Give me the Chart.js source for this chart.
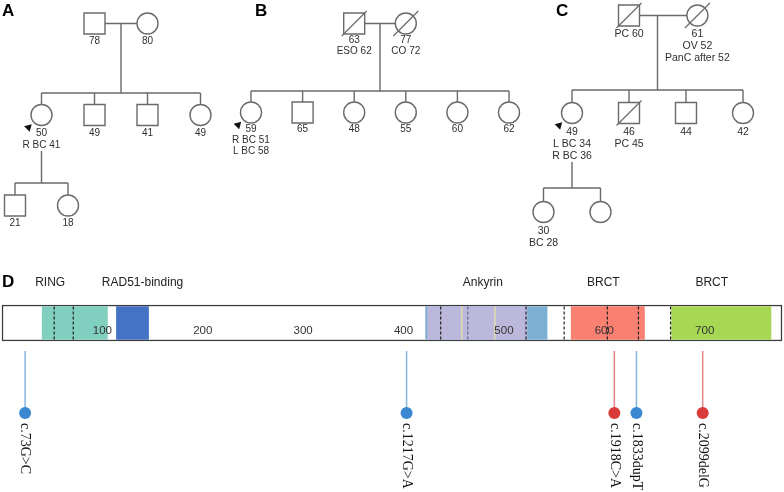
<!DOCTYPE html>
<html lang="pt-BR">
<head>
<meta charset="utf-8">
<title>Heredogramas e variantes em BARD1</title>
<script src="https://cdn.jsdelivr.net/npm/chart.js@4.4.1/dist/chart.umd.min.js"></script>
<style>
  html, body { margin: 0; padding: 0; background: #fff; }
  #painel { position: relative; width: 784px; height: 492px; overflow: hidden; }
  canvas { position: absolute; left: 0; display: block; }
  #heredogramas { top: 0; }
  #proteina { top: 260px; }
</style>
</head>
<body>
<div id="painel">
  <canvas id="heredogramas" width="784" height="260"></canvas>
  <canvas id="proteina" width="784" height="232"></canvas>
</div>
<script>
// --- DADOS ---

// Heredogramas: ger = geração, pos = posição na fileira da família
const familiaA = [
    { ger: 0, pos: 1.5, sexo: 'M', texto: ['78'] },
    { ger: 0, pos: 2.5, sexo: 'F', texto: ['80'] },
    { ger: 1, pos: 0.5, sexo: 'F', probando: true, texto: ['50', 'R BC 41'] },
    { ger: 1, pos: 1.5, sexo: 'M', texto: ['49'] },
    { ger: 1, pos: 2.5, sexo: 'M', texto: ['41'] },
    { ger: 1, pos: 3.5, sexo: 'F', texto: ['49'] },
    { ger: 2, pos: 0, sexo: 'M', texto: ['21'] },
    { ger: 2, pos: 1, sexo: 'F', texto: ['18'] }
];

const familiaB = [
    { ger: 0, pos: 2, sexo: 'M', falecido: true, texto: ['63', 'ESO 62'] },
    { ger: 0, pos: 3, sexo: 'F', falecido: true, texto: ['77', 'CO 72'] },
    { ger: 1, pos: 0, sexo: 'F', probando: true, texto: ['59', 'R BC 51', 'L BC 58'] },
    { ger: 1, pos: 1, sexo: 'M', texto: ['65'] },
    { ger: 1, pos: 2, sexo: 'F', texto: ['48'] },
    { ger: 1, pos: 3, sexo: 'F', texto: ['55'] },
    { ger: 1, pos: 4, sexo: 'F', texto: ['60'] },
    { ger: 1, pos: 5, sexo: 'F', texto: ['62'] }
];

const familiaC = [
    { ger: 0, pos: 1, sexo: 'M', falecido: true, texto: ['PC 60'] },
    { ger: 0, pos: 2.2, sexo: 'F', falecido: true, texto: ['61', 'OV 52', 'PanC after 52'] },
    { ger: 1, pos: 0, sexo: 'F', probando: true, texto: ['49', 'L BC 34', 'R BC 36'] },
    { ger: 1, pos: 1, sexo: 'M', falecido: true, texto: ['46', 'PC 45'] },
    { ger: 1, pos: 2, sexo: 'M', texto: ['44'] },
    { ger: 1, pos: 3, sexo: 'F', texto: ['42'] },
    { ger: 2, pos: -0.5, sexo: 'F', texto: ['30', 'BC 28'] },
    { ger: 2, pos: 0.5, sexo: 'F', texto: [] }
];

// Proteína (posições em aminoácidos)
const comprimentoProteina = 777;
const dominiosNome = ['RING', 'RAD51-binding', 'Ankyrin', 'BRCT', 'BRCT'];
const dominiosRotuloPos = [48, 140, 479, 599, 707];
const segmentosInicio = [40, 114, 422, 424, 567, 667];
const segmentosFim = [105, 146, 543, 523, 640, 766];
const tracejadosPos = [52, 71, 437, 522, 560, 603, 634, 666];
const tracejadoAnkyrinPos = [464];
const linhasFinasPos = [458, 491];
const marcasEixo = [100, 200, 300, 400, 500, 600, 700];

const mutacoesNome = ['c.73G>C', 'c.1217G>A', 'c.1918C>A', 'c.1833dupT', 'c.2099delG'];
const mutacoesPos = [23, 403, 610, 632, 698];
const mutacoesGrupo = ['azul', 'azul', 'vermelho', 'azul', 'vermelho'];

// --- LAYOUT E ESTILO ---

const layoutFamilias = [
    { membros: familiaA, letra: 'A', letraX: 2, x0: 15, dx: 53, genY: [23.5, 115, 205.5], sibY: [null, 93, 183], labelDy: 18, lineH: 12, fonte: 10 },
    { membros: familiaB, letra: 'B', letraX: 255, x0: 251, dx: 51.6, genY: [23.5, 112.5], sibY: [null, 91], labelDy: 17, lineH: 11, fonte: 10 },
    { membros: familiaC, letra: 'C', letraX: 556, x0: 572, dx: 57, genY: [15.5, 113, 212], sibY: [null, 90, 188], labelDy: 19, lineH: 12, fonte: 10.5, desceX: 1.5 }
];

const layoutProteina = { trilhaY: 63, topo: 46.5, base: 79.5, hasteTopo: 91, cabecaY: 153, rotuloY: 163, nomesY: 23, marcasY: 71 };

const coresSegmentos = ['#80cfbf', '#4472c4', '#7bafd4', '#bcb8dc', '#fa8072', '#a6d854'];
const coresMutacao = { azul: { haste: '#86b6e2', cabeca: '#3a87d2' }, vermelho: { haste: '#e38484', cabeca: '#d93a3a' } };

const corLinha = '#6a6a6a';
const fonteSans = '"Liberation Sans", Arial, sans-serif';
const fonteSerif = '"Liberation Serif", "Times New Roman", serif';

// --- FUNÇÕES ---

function montarHeredograma(lay, saida) {
    const R = 10.5;
    const X = m => lay.x0 + lay.dx * m.pos;
    const Y = m => lay.genY[m.ger];
    const linha = (x1, y1, x2, y2) => saida.linhas.push({ x: x1, y: y1 }, { x: x2, y: y2 }, { x: null, y: null });
    const ger = g => lay.membros.filter(m => m.ger === g);

    const pai = ger(0).find(m => m.sexo === 'M');
    const mae = ger(0).find(m => m.sexo === 'F');
    const yCasal = Y(pai);
    linha(X(pai) + R, yCasal, X(mae) - R, yCasal);
    const xDesce = lay.desceX != null ? lay.x0 + lay.dx * lay.desceX : (X(pai) + X(mae)) / 2;
    linha(xDesce, yCasal, xDesce, lay.sibY[1]);

    function irmandade(filhos, ySib) {
        const xs = filhos.map(X);
        linha(Math.min(...xs), ySib, Math.max(...xs), ySib);
        filhos.forEach(f => linha(X(f), ySib, X(f), Y(f) - R));
    }
    irmandade(ger(1), lay.sibY[1]);

    const netos = ger(2);
    if (netos.length) {
        const prob = ger(1).find(m => m.probando);
        const yIni = Y(prob) + lay.labelDy + (prob.texto.length - 1) * lay.lineH + 6;
        linha(X(prob), yIni, X(prob), lay.sibY[2]);
        irmandade(netos, lay.sibY[2]);
    }

    lay.membros.forEach(m => {
        const p = { x: X(m), y: Y(m) };
        (m.sexo === 'M' ? saida.quadrados : saida.circulos).push(p);
        if (m.falecido) {
            saida.obitos.push({ x: p.x - 12.5, y: p.y + 12.5 }, { x: p.x + 12.5, y: p.y - 12.5 }, { x: null, y: null });
        }
        if (m.probando) saida.probandos.push({ x: p.x - 13, y: p.y + 12.5 });
        m.texto.forEach((t, i) => saida.textos.push({
            x: p.x, y: p.y + lay.labelDy + i * lay.lineH, texto: t,
            fonte: lay.fonte + 'px ' + fonteSans, cor: '#2e2e2e'
        }));
    });

    saida.textos.push({ x: lay.letraX, y: 11, texto: lay.letra, fonte: 'bold 17px ' + fonteSans, cor: '#000', alinhar: 'left' });
}

// Plugin simples para escrever textos nas coordenadas das escalas
function pluginTextos(lista) {
    return {
        id: 'textos',
        afterDatasetsDraw(chart) {
            const { ctx, scales: { x, y } } = chart;
            lista.forEach(t => {
                ctx.save();
                ctx.translate(x.getPixelForValue(t.x), y.getPixelForValue(t.y));
                if (t.rot) ctx.rotate(t.rot);
                ctx.font = t.fonte;
                ctx.fillStyle = t.cor;
                ctx.textAlign = t.alinhar || 'center';
                ctx.textBaseline = 'middle';
                ctx.fillText(t.texto, 0, 0);
                ctx.restore();
            });
        }
    };
}

function opcoesBase(xMin, xMax, yMax, padX) {
    return {
        responsive: false,
        animation: false,
        events: [],
        layout: { autoPadding: false, padding: { left: padX, right: padX, top: 0, bottom: 0 } },
        plugins: { legend: { display: false }, tooltip: { enabled: false } },
        scales: {
            x: { type: 'linear', min: xMin, max: xMax, display: false, offset: false },
            y: { type: 'linear', min: 0, max: yMax, reverse: true, display: false, offset: false }
        }
    };
}

const linhaDs = (data, cor, largura, ordem, extra) => Object.assign({
    data, showLine: true, borderColor: cor, borderWidth: largura, pointRadius: 0, clip: false, order: ordem
}, extra || {});

document.addEventListener('DOMContentLoaded', () => {

    // 1. Heredogramas A, B e C
    const ped = { linhas: [], quadrados: [], circulos: [], obitos: [], probandos: [], textos: [] };
    layoutFamilias.forEach(lay => montarHeredograma(lay, ped));

    const simbolo = (data, estilo, raio) => ({
        data, pointStyle: estilo, pointRadius: raio, pointBackgroundColor: '#fff',
        pointBorderColor: corLinha, pointBorderWidth: 1.4, clip: false, order: 2
    });

    new Chart(document.getElementById('heredogramas'), {
        type: 'scatter',
        data: {
            datasets: [
                linhaDs(ped.linhas, corLinha, 1.4, 3),
                simbolo(ped.quadrados, 'rect', 10.5 * Math.SQRT2),
                simbolo(ped.circulos, 'circle', 10.5),
                linhaDs(ped.obitos, corLinha, 1.2, 1),
                {
                    data: ped.probandos, pointStyle: 'triangle', pointRadius: 4.5, pointRotation: 45,
                    pointBackgroundColor: '#111', pointBorderWidth: 0, clip: false, order: 1
                }
            ]
        },
        options: opcoesBase(0, 784, 260, 0),
        plugins: [pluginTextos(ped.textos)]
    });

    // 2. Diagrama da proteína com as variantes
    const L = layoutProteina;
    const verticais = (posicoes, y1, y2) => posicoes.flatMap(p => [{ x: p, y: y1 }, { x: p, y: y2 }, { x: null, y: null }]);

    const textosProteina = [
        { x: 0, y: 22, texto: 'D', fonte: 'bold 17px ' + fonteSans, cor: '#000', alinhar: 'left' }
    ];
    dominiosNome.forEach((n, i) => textosProteina.push({ x: dominiosRotuloPos[i], y: L.nomesY, texto: n, fonte: '12px ' + fonteSans, cor: '#222' }));
    marcasEixo.forEach(v => textosProteina.push({ x: v, y: L.marcasY, texto: String(v), fonte: '11.5px ' + fonteSans, cor: '#333' }));
    mutacoesNome.forEach((n, i) => textosProteina.push({
        x: mutacoesPos[i], y: L.rotuloY, texto: n, fonte: '14px ' + fonteSerif, cor: '#111', alinhar: 'left', rot: Math.PI / 2
    }));

    const datasetsMutacao = [];
    Object.keys(coresMutacao).forEach(grupo => {
        const pos = mutacoesPos.filter((p, i) => mutacoesGrupo[i] === grupo);
        datasetsMutacao.push(linhaDs(verticais(pos, L.hasteTopo, L.cabecaY), coresMutacao[grupo].haste, 1.5, 2));
        datasetsMutacao.push({
            data: pos.map(p => ({ x: p, y: L.cabecaY })), pointRadius: 6, pointBorderWidth: 0,
            pointBackgroundColor: coresMutacao[grupo].cabeca, clip: false, order: 1
        });
    });

    new Chart(document.getElementById('proteina'), {
        type: 'scatter',
        data: {
            datasets: [
                {
                    type: 'bar', indexAxis: 'y', grouped: false,
                    data: [{ x: [0, comprimentoProteina], y: L.trilhaY }],
                    backgroundColor: '#fff', borderColor: '#3c3c3c', borderWidth: 1.5, borderSkipped: false,
                    barThickness: 36, clip: false, order: 6
                },
                {
                    type: 'bar', indexAxis: 'y', grouped: false,
                    data: segmentosInicio.map((ini, i) => ({ x: [ini, segmentosFim[i]], y: L.trilhaY })),
                    backgroundColor: coresSegmentos, borderWidth: 0, barThickness: 33, clip: false, order: 5
                },
                linhaDs(verticais(linhasFinasPos, L.topo, L.base), '#e2dcae', 1.5, 4),
                linhaDs(verticais(tracejadoAnkyrinPos, L.topo, L.base), '#6c6496', 1.2, 3, { borderDash: [3, 2] }),
                linhaDs(verticais(tracejadosPos, L.topo, L.base), '#1e1e1e', 1.2, 3, { borderDash: [3, 2] }),
                ...datasetsMutacao
            ]
        },
        options: opcoesBase(0, comprimentoProteina, 232, 2),
        plugins: [pluginTextos(textosProteina)]
    });
});
</script>
</body>
</html>
